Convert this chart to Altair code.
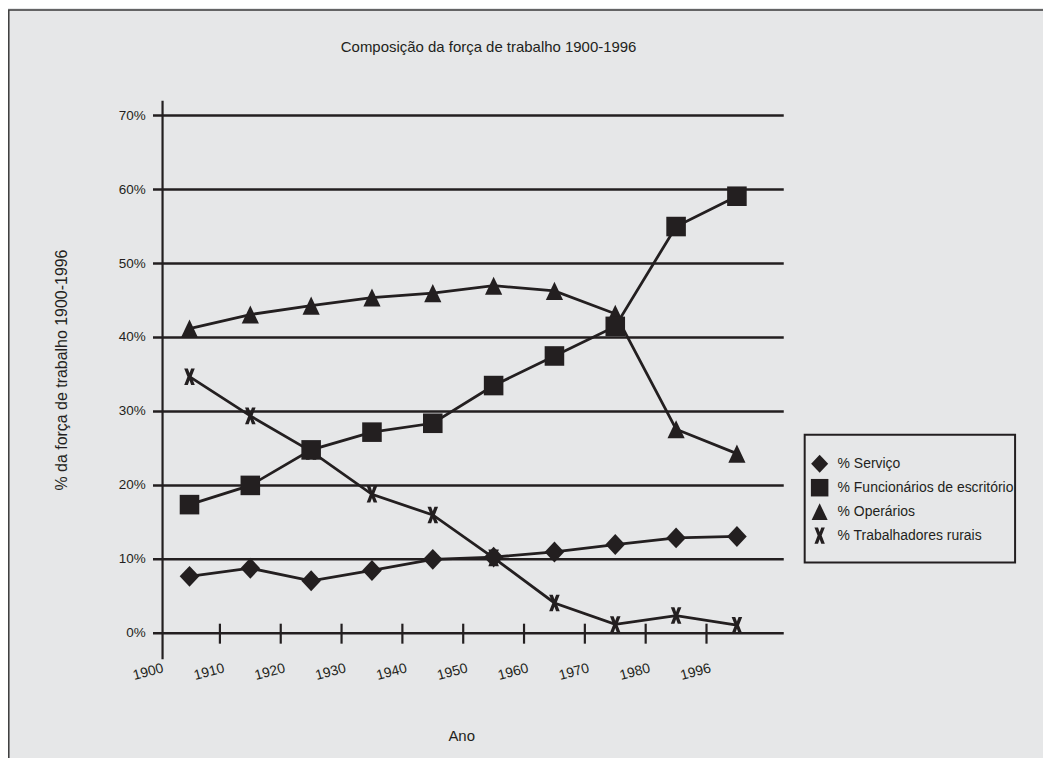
import altair as alt
import pandas as pd

# ---------------- data ----------------
years = ["1900", "1910", "1920", "1930", "1940", "1950", "1960", "1970", "1980", "1996"]
series_names = ["% Serviço", "% Funcionários de escritório", "% Operários", "% Trabalhadores rurais"]
servico = [7.7, 8.8, 7.1, 8.5, 10.0, 10.3, 11.0, 12.0, 12.9, 13.1]
funcionarios = [17.4, 20.0, 24.8, 27.2, 28.4, 33.5, 37.5, 41.5, 55.0, 59.1]
operarios = [41.2, 43.1, 44.3, 45.4, 46.0, 47.0, 46.3, 43.2, 27.6, 24.3]
rurais = [34.7, 29.4, 24.6, 18.8, 16.0, 10.2, 4.1, 1.2, 2.4, 1.1]
y_levels = [0, 10, 20, 30, 40, 50, 60, 70]
y_labels = ["0%", "10%", "20%", "30%", "40%", "50%", "60%", "70%"]
title_text = "Composição da força de trabalho 1900-1996"
x_title = "Ano"
y_title = "% da força de trabalho 1900-1996"

# ---------------- styling ----------------
INK = "#231f20"
BG = "#e6e7e8"
FONT = "Liberation Sans"
W, H = 623, 560
DIAMOND_PATH = "M0,-1L0.94,0L0,1L-0.94,0Z"
TRIANGLE_PATH = "M0,-1L0.95,1L-0.95,1Z"
X_PATH = ("M-0.64,-1L-0.2,-1L0,-0.44L0.2,-1L0.64,-1L0.25,0L0.64,1L0.2,1"
          "L0,0.44L-0.2,1L-0.64,1L-0.25,0Z")

values_by_series = dict(zip(series_names, [servico, funcionarios, operarios, rurais]))
draw_order = [series_names[3], series_names[2], series_names[0], series_names[1]]
rows = []
for name in draw_order:
    for i, (yr, v) in enumerate(zip(years, values_by_series[name])):
        rows.append({"series": name, "idx": i, "year": yr, "value": v})
df = pd.DataFrame(rows)
years_df = pd.DataFrame({"idx": list(range(len(years))), "year": years})
grid_df = pd.DataFrame({"level": y_levels, "label": y_labels})
legend_df = pd.DataFrame({"series": series_names, "row": list(range(len(series_names)))})
one = pd.DataFrame({"k": [0]})
texts_df = pd.DataFrame({"title": [title_text], "xt": [x_title], "yt": [y_title]})

xs = alt.Scale(domain=[-0.443, 9.77], nice=False, zero=False)
ys = alt.Scale(domain=[-3.5, 72], nice=False, zero=False)
shape_scale = alt.Scale(domain=series_names, range=[DIAMOND_PATH, "square", TRIANGLE_PATH, X_PATH])
size_scale = alt.Scale(domain=series_names, range=[440, 275, 500, 420])
legend_size_scale = alt.Scale(domain=series_names, range=[330, 265, 430, 290])
legend_rows = alt.Scale(domain=[0, 3], range=[364, 436])

frame = alt.Chart(one).mark_rect(filled=False, stroke="#3a3a3a", strokeWidth=1.5).encode(
    x=alt.value(-154.2), y=alt.value(-91.2), x2=alt.value(2000), y2=alt.value(2000)
)

gridlines = alt.Chart(grid_df).mark_rule(color=INK, strokeWidth=2.5).encode(
    x=alt.XDatum(-0.6, scale=xs, axis=None),
    x2=alt.X2Datum(9.77),
    y=alt.Y("level:Q", scale=ys, axis=None),
)

yaxis_line = alt.Chart(one).mark_rule(color=INK, strokeWidth=2.2).encode(
    x=alt.value(0), y=alt.value(0), y2=alt.value(H)
)

xticks = alt.Chart(years_df).transform_filter(
    alt.datum.idx < len(years) - 1
).transform_calculate(pos="datum.idx + 0.5").mark_rule(color=INK, strokeWidth=2.2).encode(
    x=alt.X("pos:Q", scale=xs, axis=None),
    y=alt.YDatum(-1.4, scale=ys, axis=None),
    y2=alt.Y2Datum(1.3),
)

ylabels = alt.Chart(grid_df).mark_text(
    align="right", baseline="middle", fontSize=13.5, font=FONT, color=INK
).encode(x=alt.value(-17), y=alt.Y("level:Q", scale=ys, axis=None), text="label:N")

xlabels = alt.Chart(years_df).mark_text(
    angle=345, align="center", baseline="middle", fontSize=14, font=FONT, color=INK, dx=-50, dy=27
).encode(
    x=alt.X("idx:Q", scale=xs, axis=None),
    y=alt.YDatum(0, scale=ys, axis=None),
    text="year:N",
)

lines = alt.Chart(df).mark_line(color=INK, strokeWidth=2.8).encode(
    x=alt.X("idx:Q", scale=xs, axis=None),
    y=alt.Y("value:Q", scale=ys, axis=None),
    detail="series:N",
    order="idx:Q",
)

points = alt.Chart(df).mark_point(filled=True, opacity=1, color=INK).encode(
    x=alt.X("idx:Q", scale=xs, axis=None),
    y=alt.Y("value:Q", scale=ys, axis=None),
    shape=alt.Shape("series:N", scale=shape_scale, legend=None),
    size=alt.Size("series:N", scale=size_scale, legend=None),
)

# ---- legend box drawn from the series list ----
legend_box = alt.Chart(one).mark_rect(fill=BG, stroke=INK, strokeWidth=2).encode(
    x=alt.value(644), y=alt.value(335), x2=alt.value(855), y2=alt.value(463)
)
legend_symbols = alt.Chart(legend_df).mark_point(filled=True, opacity=1, color=INK).encode(
    x=alt.value(659),
    y=alt.Y("row:Q", scale=legend_rows, axis=None),
    shape=alt.Shape("series:N", scale=shape_scale, legend=None),
    size=alt.Size("series:N", scale=legend_size_scale, legend=None),
)
legend_labels = alt.Chart(legend_df).mark_text(
    align="left", baseline="middle", fontSize=14, font=FONT, color=INK
).encode(
    x=alt.value(677),
    y=alt.Y("row:Q", scale=legend_rows, axis=None),
    text="series:N",
)

title_mark = alt.Chart(texts_df).mark_text(
    fontSize=15, font=FONT, color=INK, align="center", baseline="middle"
).encode(x=alt.value(327), y=alt.value(-54), text="title:N")

xtitle_mark = alt.Chart(texts_df).mark_text(
    fontSize=15, font=FONT, color=INK, align="center", baseline="middle"
).encode(x=alt.value(300), y=alt.value(637), text="xt:N")

ytitle_mark = alt.Chart(texts_df).mark_text(
    fontSize=16, font=FONT, color=INK, align="center", baseline="middle", angle=270
).encode(x=alt.value(-101), y=alt.value(270), text="yt:N")

chart = alt.layer(
    frame, gridlines, yaxis_line, xticks, ylabels, xlabels, lines, points,
    legend_box, legend_symbols, legend_labels,
    title_mark, xtitle_mark, ytitle_mark,
).resolve_scale(y="independent", size="independent").properties(
    width=W, height=H,
    autosize=alt.AutoSizeParams(type="none"),
    padding={"left": 155, "top": 92, "right": 260, "bottom": 98},
    background=BG,
).configure_view(stroke="transparent")

chart.save("out.html", embed_options={"renderer": "svg", "actions": False})
